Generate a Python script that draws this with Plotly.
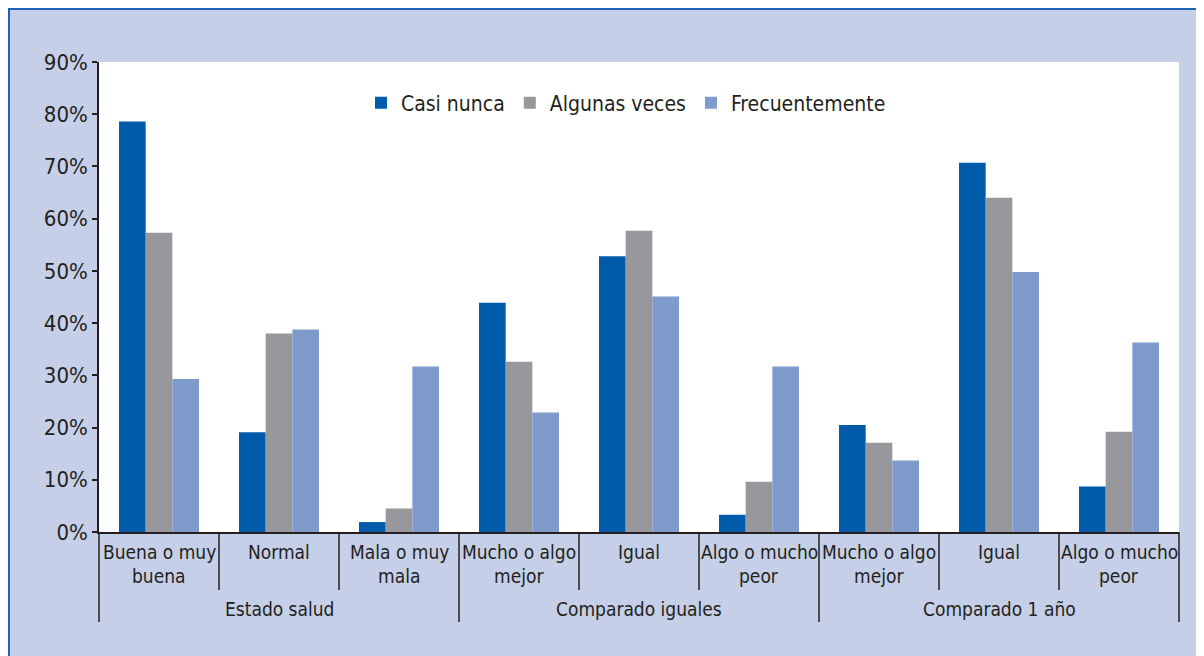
import plotly.graph_objects as go

# ---- data ----
groups = ["Estado salud", "Estado salud", "Estado salud",
          "Comparado iguales", "Comparado iguales", "Comparado iguales",
          "Comparado 1 año", "Comparado 1 año", "Comparado 1 año"]
subcats = ["Buena o muy<br>buena", "Normal", "Mala o muy<br>mala",
           "Mucho o algo<br>mejor", "Igual", "Algo o mucho<br>peor",
           "Mucho o algo<br>mejor", "Igual", "Algo o mucho<br>peor"]
casi_nunca = [78.6, 19.1, 1.9, 43.9, 52.8, 3.3, 20.5, 70.7, 8.7]
algunas_veces = [57.3, 38.0, 4.5, 32.6, 57.7, 9.6, 17.1, 64.0, 19.2]
frecuentemente = [29.3, 38.8, 31.7, 22.9, 45.1, 31.7, 13.7, 49.8, 36.3]
series_names = ["Casi nunca", "Algunas veces", "Frecuentemente"]
y_ticks = [0, 10, 20, 30, 40, 50, 60, 70, 80, 90]
y_ticktext = [f"{v}%" for v in y_ticks]

# ---- style ----
FONT = "Liberation Sans Narrow, DejaVu Sans Condensed, Arial Narrow, sans-serif"
TXT = "#231f20"
COLORS = ["#005bab", "#97989c", "#7f9bcc"]
BG = "#c5cfe7"
OFF = 8  # page body margin
W, H = 1204, 656
ML, MT = 99 - OFF, 62 - OFF
MR = W - (1179 - OFF)
MB = H - (532 - OFF)
PW, PH = W - ML - MR, H - MT - MB

keys = [f"{g}|{s}" for g, s in zip(groups, subcats)]
n = len(keys)

fig = go.Figure()
for name, vals, col in zip(series_names, [casi_nunca, algunas_veces, frecuentemente], COLORS):
    fig.add_trace(go.Bar(x=keys, y=vals, name=name, marker=dict(color=col, line=dict(width=0))))

def sx(px):  # screen px -> paper x
    return (px - OFF - ML) / PW

def sy(py):  # screen px -> paper y
    return (H - MB - (py - OFF)) / PH

shapes = []
annotations = []
# blue frame lines at the figure's top/left edge
shapes.append(dict(type="line", xref="paper", yref="paper",
                   x0=sx(OFF), x1=sx(W + OFF), y0=sy(OFF + 1), y1=sy(OFF + 1),
                   line=dict(color="#1e64b4", width=2)))
shapes.append(dict(type="line", xref="paper", yref="paper",
                   x0=sx(OFF + 1), x1=sx(OFF + 1), y0=sy(OFF), y1=sy(H + OFF),
                   line=dict(color="#1e64b4", width=2)))

# dividers
inner_bottom = sy(590)
outer_bottom = sy(622)
for i in range(n + 1):
    is_outer = i == 0 or i == n or groups[i] != groups[i - 1]
    shapes.append(dict(type="line", xref="paper", yref="paper",
                       x0=i / n, x1=i / n, y0=0, y1=outer_bottom if is_outer else inner_bottom,
                       line=dict(color=TXT, width=1.5)))

# inner labels
for i, s in enumerate(subcats):
    for j, line in enumerate(s.split("<br>")):
        annotations.append(dict(xref="paper", yref="paper", x=(i + 0.5) / n,
                                y=sy(552 + 24 * j), text=line, showarrow=False,
                                xanchor="center", yanchor="middle",
                                font=dict(family=FONT, size=19, color=TXT)))
# outer labels
start = 0
for i in range(1, n + 1):
    if i == n or groups[i] != groups[start]:
        annotations.append(dict(xref="paper", yref="paper", x=(start + i) / 2 / n,
                                y=sy(609), text=groups[start], showarrow=False,
                                xanchor="center", yanchor="middle",
                                font=dict(family=FONT, size=19, color=TXT)))
        start = i

fig.update_layout(
    width=W, height=H,
    margin=dict(l=ML, r=MR, t=MT, b=MB),
    paper_bgcolor=BG, plot_bgcolor="white",
    barmode="group", bargap=1/3, bargroupgap=0,
    font=dict(family=FONT, color=TXT, size=20),
    showlegend=True,
    legend=dict(orientation="h", x=sx(626), xanchor="center", y=sy(103), yanchor="middle",
                bgcolor="rgba(0,0,0,0)", font=dict(family=FONT, size=21, color=TXT),
                traceorder="normal"),
    xaxis=dict(type="category", range=[-0.5, n - 0.5], showticklabels=False, ticks="",
               showline=True, linecolor=TXT, linewidth=1.5, showgrid=False, zeroline=False, fixedrange=True),
    yaxis=dict(range=[0, 90], tickmode="array", tickvals=y_ticks, ticktext=y_ticktext,
               ticks="outside", ticklen=5,
               tickcolor=TXT, tickwidth=1.5, showline=True, linecolor=TXT, linewidth=1.5,
               showgrid=False, zeroline=False, tickfont=dict(family=FONT, size=22, color=TXT)),
    shapes=shapes, annotations=annotations,
)

fig.write_html("out.html")
